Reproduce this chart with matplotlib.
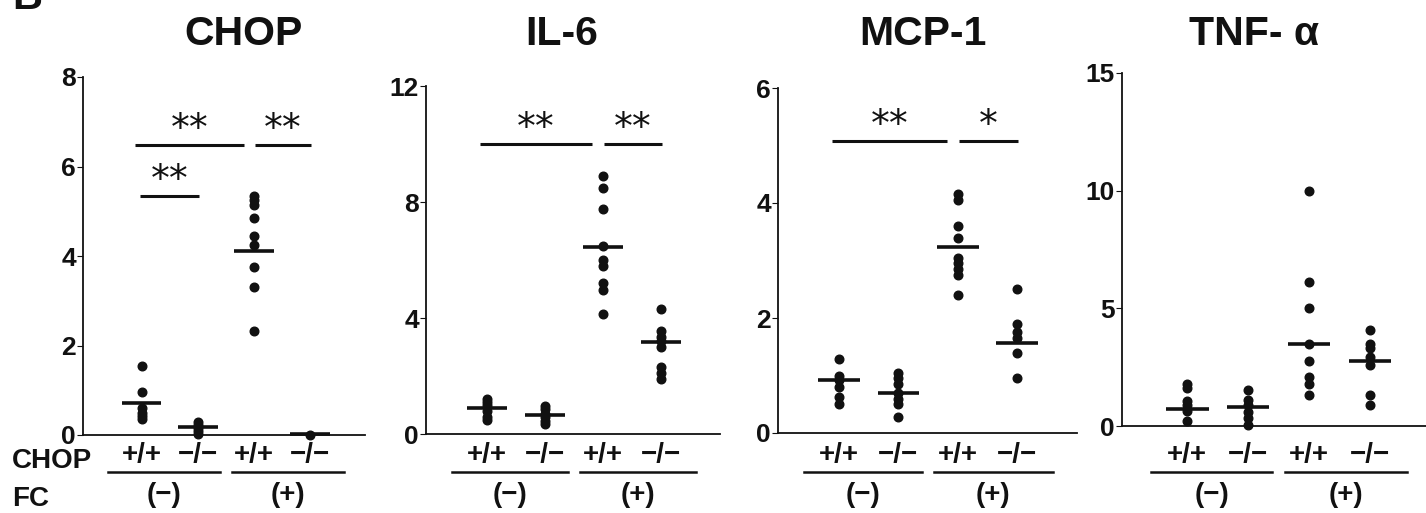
import matplotlib
matplotlib.use("Agg")
import matplotlib.pyplot as plt
from matplotlib import font_manager, transforms

plt.rcParams["font.family"] = ["Liberation Sans", "DejaVu Sans"]


def bold_font(size):
    # pick the plain (not Narrow) Liberation Sans Bold file
    for path in font_manager.findSystemFonts():
        if path.endswith("LiberationSans-Bold.ttf"):
            return font_manager.FontProperties(fname=path, size=size)
    return font_manager.FontProperties(family="DejaVu Sans", weight="bold", size=size)


W, H = 1426, 513
INK = "#111111"

# values, one list per group: (+/+,FC-), (-/-,FC-), (+/+,FC+), (-/-,FC+)
chop_values = [
    [1.55, 0.95, 0.6, 0.5, 0.42, 0.35],
    [0.28, 0.22, 0.15, 0.08, 0.03],
    [5.35, 5.25, 5.15, 4.85, 4.45, 4.25, 3.75, 3.3, 2.33],
    [0.0],
]
chop_means = [0.72, 0.18, 4.11, 0.02]
chop_yticks = [0, 2, 4, 6, 8]
chop_sig = [(1, 3, 6.48, "**"), (3, 4, 6.48, "**"), (1, 2, 5.34, "**")]

il6_values = [
    [1.2, 1.1, 1.0, 0.8, 0.6, 0.5],
    [0.95, 0.85, 0.7, 0.6, 0.45, 0.35],
    [8.9, 8.5, 7.75, 6.5, 6.0, 5.8, 5.2, 4.95, 4.15],
    [4.3, 3.55, 3.35, 3.2, 3.0, 2.3, 2.1, 1.9],
]
il6_means = [0.9, 0.65, 6.45, 3.17]
il6_yticks = [0, 4, 8, 12]
il6_sig = [(1, 3, 10.0, "**"), (3, 4, 10.0, "**")]

mcp1_values = [
    [1.28, 1.0, 0.92, 0.8, 0.62, 0.5],
    [1.05, 0.95, 0.85, 0.7, 0.6, 0.5, 0.28],
    [4.15, 4.05, 3.6, 3.4, 3.05, 2.95, 2.85, 2.75, 2.4],
    [2.5, 1.9, 1.75, 1.65, 1.4, 0.95],
]
mcp1_means = [0.93, 0.69, 3.24, 1.56]
mcp1_yticks = [0, 2, 4, 6]
mcp1_sig = [(1, 3, 5.08, "**"), (3, 4, 5.08, "*")]

tnf_values = [
    [1.8, 1.6, 1.05, 0.9, 0.65, 0.2],
    [1.55, 1.1, 0.9, 0.6, 0.35, 0.05],
    [10.0, 6.1, 5.0, 3.5, 2.75, 2.1, 1.8, 1.3],
    [4.1, 3.5, 3.3, 2.95, 2.6, 1.3, 0.9],
]
tnf_means = [0.72, 0.82, 3.48, 2.75]
tnf_yticks = [0, 5, 10, 15]
tnf_sig = []

titles = ["CHOP", "IL-6", "MCP-1", "TNF- α"]
genotypes = ["+/+", "−/−", "+/+", "−/−"]
fc_labels = ["(−)", "(+)"]

panels = [
    (chop_values, chop_means, chop_yticks, chop_sig),
    (il6_values, il6_means, il6_yticks, il6_sig),
    (mcp1_values, mcp1_means, mcp1_yticks, mcp1_sig),
    (tnf_values, tnf_means, tnf_yticks, tnf_sig),
]

# axes boxes in pixels: left, right, top, bottom
boxes = [(83, 365, 77, 435), (426, 720, 86, 434), (778, 1077, 88, 433), (1122, 1426, 73, 426)]
xlims = [(-0.05, 4.98), (-0.05, 5.02), (-0.03, 5.01), (-0.07, 4.92)]
title_x = [243, 562, 923, 1254]

tick_fp = bold_font(19)
label_fp = bold_font(20)
title_fp = bold_font(29.5)

fig = plt.figure(figsize=(W / 100, H / 100), dpi=100)

for i, (values, means, yticks, sig) in enumerate(panels):
    left, right, top, bottom = boxes[i]
    ax = fig.add_axes([left / W, 1 - bottom / H, (right - left) / W, (bottom - top) / H])
    for g, vals in enumerate(values, start=1):
        ax.plot([g] * len(vals), vals, "o", color=INK, markersize=6.2, clip_on=False, zorder=3)
        ax.plot([g - 0.35, g + 0.35], [means[g - 1]] * 2, color=INK, lw=2.6, solid_capstyle="butt",
                clip_on=False, zorder=4)
    for a, b, level, stars in sig:
        if b - a > 1:
            x0, x1 = a - 0.12, b - 0.18
        else:
            x0, x1 = a + 0.02 - (0.06 if a == 1 else 0), b + 0.02
        ax.plot([x0, x1], [level, level], color=INK, lw=2.2, solid_capstyle="butt", clip_on=False)
        ax.annotate(stars, ((x0 + x1) / 2, level), xytext=(0, 11), textcoords="offset points",
                    ha="center", va="center", fontsize=27, family="DejaVu Sans", color=INK)

    ax.set_xlim(*xlims[i])
    ax.set_ylim(0, yticks[-1])
    ax.set_yticks(yticks)
    ax.set_yticklabels([str(t) for t in yticks], fontproperties=tick_fp)
    ax.set_xticks([])
    ax.tick_params(axis="y", length=4, width=0.8, pad=1, colors=INK)
    for side in ("top", "right"):
        ax.spines[side].set_visible(False)
    for side in ("left", "bottom"):
        ax.spines[side].set_linewidth(1.3)
        ax.spines[side].set_color(INK)
    ax.patch.set_visible(False)

    # group labels below the axis
    trans = transforms.blended_transform_factory(ax.transData, fig.transFigure)
    for g, lab in enumerate(genotypes, start=1):
        ax.text(g, 1 - 455 / H, lab, transform=trans, ha="center", va="center",
                fontproperties=label_fp, color=INK, clip_on=False)
    for k, lab in enumerate(fc_labels):
        x0, x1 = 0.4 + 2.2 * k, 2.4 + 2.2 * k
        ax.plot([x0, x1], [1 - 472 / H] * 2, transform=trans, color=INK, lw=1.8, clip_on=False)
        ax.text((x0 + x1) / 2, 1 - 495 / H, lab, transform=trans, ha="center", va="center",
                fontproperties=label_fp, color=INK, clip_on=False)

    fig.text(title_x[i] / W, 1 - 34 / H, titles[i], ha="center", va="center",
             fontproperties=title_fp, color=INK)

fig.text(12 / W, 1 - 461 / H, "CHOP", ha="left", va="center", fontproperties=label_fp, color=INK)
fig.text(12 / W, 1 - 512 / H, "FC", ha="left", va="bottom", fontproperties=label_fp, color=INK)
fig.text(12 / W, 1 - 9 / H, "B", ha="left", va="baseline", fontproperties=bold_font(30), color=INK)

fig.savefig("out.png", dpi=100)
